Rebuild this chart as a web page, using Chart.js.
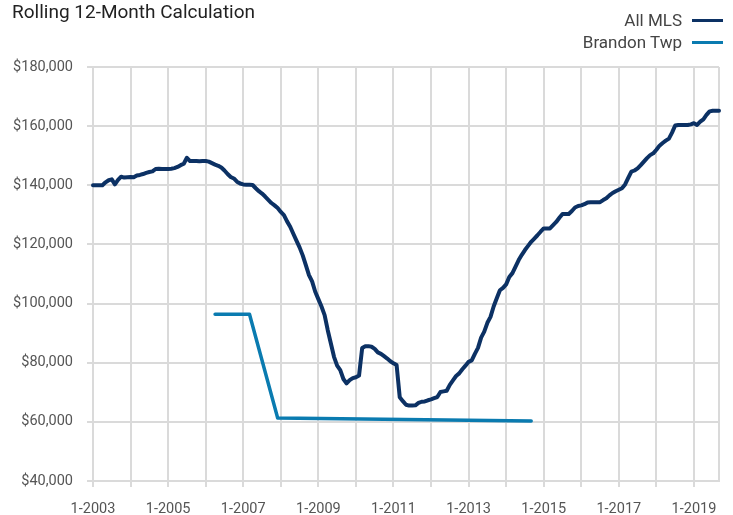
<!DOCTYPE html>
<html>
<head>
<meta charset="utf-8">
<script src="https://cdn.jsdelivr.net/npm/chart.js@4.4.1/dist/chart.umd.min.js"></script>
<style>
body{margin:0;background:#fff;font-family:Roboto,sans-serif}
#wrap{position:relative;width:733px;height:515px}
#title{position:absolute;left:12px;top:0px;font-size:19px;color:#222;white-space:nowrap}
#legend-container{position:absolute;right:10px;top:9px}
#legend-container ul{list-style:none;margin:0;padding:0}
#legend-container li{display:flex;align-items:center;justify-content:flex-end;height:22px;font-size:17px;color:#444}
</style>
</head>
<body>
<div id="wrap">
  <canvas id="DataChart" width="733" height="515"></canvas>
  <div id="title">Rolling 12-Month Calculation</div>
  <div id="legend-container"></div>
</div>
<script>
// monthly categories 1-2003 .. 9-2019
const months = []
for (let y = 2003; y <= 2019; y++) {
  for (let m = 1; m <= 12; m++) {
    if (y === 2019 && m > 9) break
    months.push(m + '-' + y)
  }
}
const xTickLabels = ['1-2003','1-2005','1-2007','1-2009','1-2011','1-2013','1-2015','1-2017','1-2019']
const yTicks = [40000, 60000, 80000, 100000, 120000, 140000, 160000, 180000]

const allMls = [
  140000,140000,140000,140000,141000,141700,142000,140300,141800,142900,142600,142700, // 2003
  142800,142700,143300,143500,143800,144200,144500,144700,145500,145600,145500,145500, // 2004
  145500,145600,145800,146200,146800,147300,149300,148200,148200,148200,148100,148200, // 2005
  148200,148000,147500,147000,146600,146000,145000,143800,142800,142300,141200,140600, // 2006
  140300,140200,140200,140100,139000,138000,137200,136200,135100,134000,133200,132300, // 2007
  131000,129900,127800,126000,123600,121300,119000,116300,113000,109600,107500,104000, // 2008
  101500,99000,96100,91000,86500,82000,79000,77500,74500,73000,74100,74800,            // 2009
  75100,75700,85000,85600,85600,85400,84700,83500,83000,82200,81400,80500,             // 2010
  79800,79200,68300,67000,65800,65500,65500,65600,66400,66800,66900,67300,             // 2011
  67600,68000,68400,70100,70300,70500,72500,74000,75500,76400,77800,79000,             // 2012
  80300,80800,83000,85000,88500,90500,93500,95500,99000,101800,104500,105300,          // 2013
  106500,109000,110300,112500,114700,116500,118100,119500,120900,122000,123100,124300, // 2014
  125400,125400,125400,126500,127600,129000,130300,130300,130300,131300,132500,133000, // 2015
  133200,133600,134200,134300,134300,134300,134300,135000,135600,136600,137400,138000, // 2016
  138500,139000,140300,142500,144600,145000,145700,146800,148000,149200,150200,150800, // 2017
  152000,153400,154300,155100,155800,157800,160200,160400,160400,160400,160400,160600, // 2018
  161000,160400,161500,162300,163800,165000,165200,165200,165200                       // 2019
]

const brandonMonths = ['4-2006','3-2007','12-2007','9-2014']
const brandonTwp = [96400, 96400, 61300, 60300]

const gridCol = '#dadada'
const isJan = i => months[i] && months[i].startsWith('1-')

const getOrCreateLegendList = (id) => {
  const legendContainer = document.getElementById(id)
  let listContainer = legendContainer.querySelector('ul')
  if (!listContainer) {
    listContainer = document.createElement('ul')
    legendContainer.appendChild(listContainer)
  }
  return listContainer
}

const htmlLegendPlugin = {
  id: 'htmlLegend',
  afterUpdate(chart, args, options) {
    const ul = getOrCreateLegendList(options.containerID)
    while (ul.firstChild) ul.firstChild.remove()
    const items = chart.options.plugins.legend.labels.generateLabels(chart)
    items.forEach(item => {
      const li = document.createElement('li')
      const text = document.createElement('span')
      text.textContent = item.text
      // line sample on the right of the text
      const box = document.createElement('span')
      box.style.display = 'inline-block'
      box.style.width = '31px'
      box.style.height = '3px'
      box.style.marginLeft = '10px'
      box.style.background = item.strokeStyle
      li.appendChild(text)
      li.appendChild(box)
      ul.appendChild(li)
    })
  }
}

const config = {
  type: 'line',
  data: {
    labels: months,
    datasets: [
      {
        label: 'All MLS',
        data: allMls,
        borderColor: '#0c3164',
        backgroundColor: '#0c3164',
        borderWidth: 4,
        pointRadius: 0,
        tension: 0,
        borderJoinStyle: 'round',
        borderCapStyle: 'round'
      },
      {
        label: 'Brandon Twp',
        data: brandonMonths.map((m, i) => ({ x: m, y: brandonTwp[i] })),
        borderColor: '#0a7bb0',
        backgroundColor: '#0a7bb0',
        borderWidth: 3.5,
        pointRadius: 0,
        tension: 0,
        borderJoinStyle: 'round',
        borderCapStyle: 'round'
      }
    ]
  },
  options: {
    responsive: false,
    animation: false,
    devicePixelRatio: 1,
    layout: { padding: { top: 67, right: 10, left: 0, bottom: 0 } },
    scales: {
      x: {
        type: 'category',
        offset: false,
        afterFit: s => { s.height = 34 },
        border: { color: gridCol, width: 2 },
        grid: {
          lineWidth: 2,
          tickLength: 6,
          color: ctx => (isJan(ctx.index) || ctx.index === months.length - 1) ? gridCol : 'rgba(0,0,0,0)',
          tickColor: ctx => isJan(ctx.index) ? gridCol : 'rgba(0,0,0,0)'
        },
        ticks: {
          autoSkip: false,
          maxRotation: 0,
          minRotation: 0,
          padding: 14,
          color: '#555',
          font: { family: 'Roboto', size: 14.5 },
          callback: function (val) {
            const l = this.getLabelForValue(val)
            return xTickLabels.includes(l) ? l : ''
          }
        }
      },
      y: {
        min: yTicks[0],
        max: yTicks[yTicks.length - 1],
        afterFit: s => { s.width = 93 },
        afterBuildTicks: s => { s.ticks = yTicks.map(v => ({ value: v })) },
        border: { color: gridCol, width: 2 },
        grid: { lineWidth: 2, tickLength: 6, color: gridCol, tickColor: gridCol },
        ticks: {
          padding: 14,
          color: '#555',
          font: { family: 'Roboto', size: 14.5 },
          callback: v => '$' + v.toLocaleString('en-US')
        }
      }
    },
    plugins: {
      htmlLegend: { containerID: 'legend-container' },
      legend: { display: false },
      title: { display: false },
      tooltip: { enabled: false }
    }
  },
  plugins: [htmlLegendPlugin]
}

new Chart(document.getElementById('DataChart'), config)
</script>
</body>
</html>
